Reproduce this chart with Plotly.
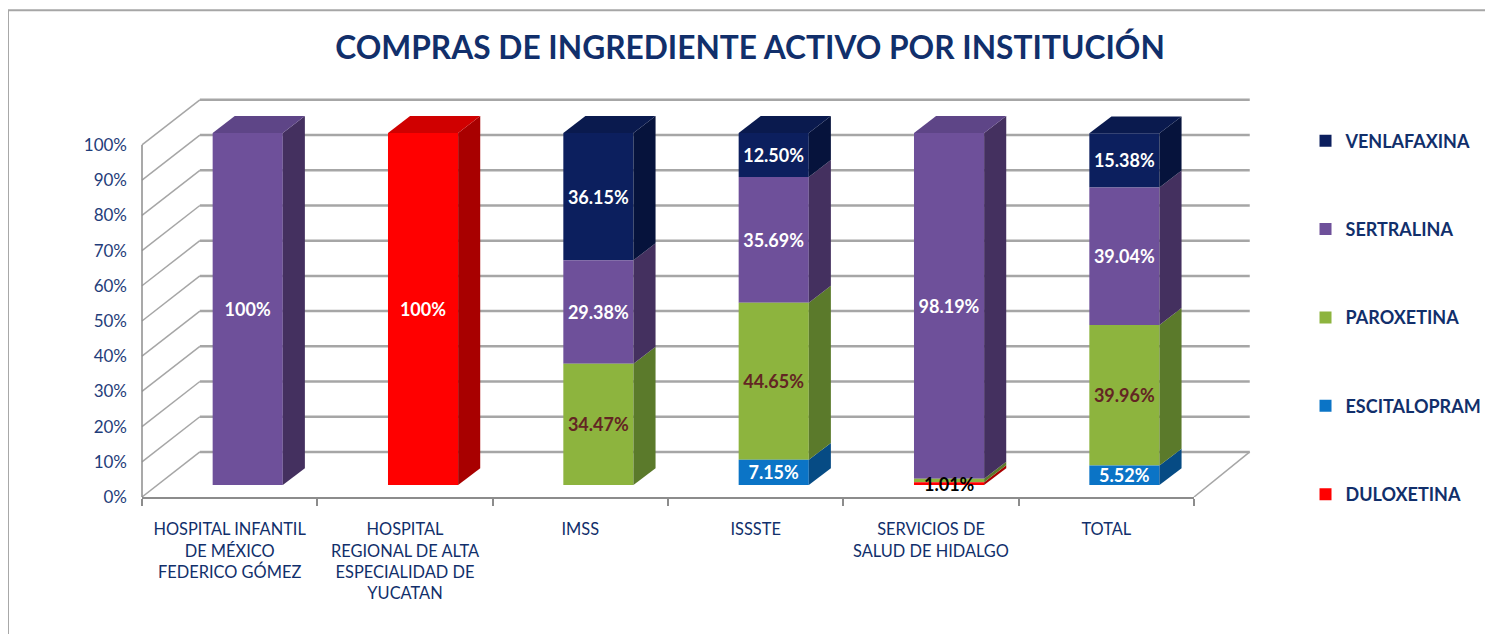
import plotly.graph_objects as go

# ---------------- data ----------------
categories = [
    "HOSPITAL INFANTIL<br>DE MÉXICO<br>FEDERICO GÓMEZ",
    "HOSPITAL<br>REGIONAL DE ALTA<br>ESPECIALIDAD DE<br>YUCATAN",
    "IMSS",
    "ISSSTE",
    "SERVICIOS DE<br>SALUD DE HIDALGO",
    "TOTAL",
]
series_names = ["DULOXETINA", "ESCITALOPRAM", "PAROXETINA", "SERTRALINA", "VENLAFAXINA"]
duloxetina = [0, 100, 0, 0, 0.80, 0]
escitalopram = [0, 0, 0, 7.15, 0, 5.52]
paroxetina = [0, 0, 34.47, 44.65, 1.01, 39.96]
sertralina = [100, 0, 29.38, 35.69, 98.19, 39.04]
venlafaxina = [0, 0, 36.15, 12.50, 0, 15.38]
y_tick_values = [0, 10, 20, 30, 40, 50, 60, 70, 80, 90, 100]
title_text = "COMPRAS DE INGREDIENTE ACTIVO POR INSTITUCIÓN"

series_values = [duloxetina, escitalopram, paroxetina, sertralina, venlafaxina]

# ---------------- style ----------------
front_colors = ["#FF0000", "#0B74C6", "#8DB43E", "#6E509A", "#0C1F5E"]
side_colors = ["#A80000", "#064B84", "#5B7A2B", "#44305F", "#06133C"]
top_colors = ["#D00000", "#0960A3", "#76983A", "#5E4587", "#0A1A4E"]
label_colors = ["white", "white", "#632523", "white", "white"]
NAVY = "#112F6B"
GRID = "#A6A6A6"
FONT = "Lato"

BAR_W = 0.4        # bar width (category units)
OFFSET = -0.097    # bar front-face offset from category centre
DX = 0.126         # 3D depth of bars (x units)
DY = 4.8           # 3D depth of bars (y units)
FRONT = -3.4       # floor front edge, relative to bar plane (y units)
BACK = 9.4         # back wall, relative to bar plane (y units)
WALL_X0 = 0.055    # back wall start (paper)
WALL_X1 = 1.053    # back wall end (paper)
MIN_LABEL = 5

positions = list(range(len(categories)))


def fmt(v):
    return "100%" if v == 100 else f"{v:.2f}%"


# cumulative bases (stack order: first series at the bottom)
bases = []
acc = [0.0] * len(categories)
for vals in series_values:
    bases.append(acc[:])
    acc = [acc[i] + vals[i] for i in positions]
totals = acc

fig = go.Figure()
shapes = []
annotations = []

# 3D walls: back-wall gridlines + side-wall diagonals
for v in y_tick_values:
    shapes.append(dict(type="line", xref="paper", yref="y", layer="below",
                       x0=WALL_X0, x1=WALL_X1, y0=v + BACK, y1=v + BACK,
                       line=dict(color=GRID, width=2.5)))
    shapes.append(dict(type="line", xref="paper", yref="y", layer="below",
                       x0=0, x1=WALL_X0, y0=v + FRONT, y1=v + BACK,
                       line=dict(color=GRID, width=1.5)))
# floor right edge
shapes.append(dict(type="line", xref="paper", yref="y", layer="below",
                   x0=1, x1=WALL_X1, y0=FRONT, y1=BACK,
                   line=dict(color=GRID, width=1.5)))
# front vertical axis edge
shapes.append(dict(type="line", xref="paper", yref="y", layer="above",
                   x0=0, x1=0, y0=FRONT, y1=y_tick_values[-1] + FRONT,
                   line=dict(color="#8C8C8C", width=1.5)))

# add traces top series first so the legend lists VENLAFAXINA first
for k in reversed(range(len(series_names))):
    name, vals = series_names[k], series_values[k]
    texts = [fmt(v) if v >= MIN_LABEL else "" for v in vals]
    fig.add_trace(go.Bar(
        x=positions, y=vals, base=bases[k], name=name, legendgroup=name,
        width=BAR_W, offset=OFFSET,
        marker=dict(color=front_colors[k], line=dict(width=0)),
        text=texts, textposition="inside", insidetextanchor="middle",
        textangle=0, constraintext="none",
        textfont=dict(family=FONT, size=18, color=label_colors[k], weight="bold"),
        hoverinfo="skip",
    ))

for k, vals in enumerate(series_values):
    for i, v in enumerate(vals):
        if v <= 0:
            continue
        xl = positions[i] + OFFSET
        xr = xl + BAR_W
        b = bases[k][i]
        t = b + v
        shapes.append(dict(
            type="path", xref="x", yref="y", layer="above",
            path=f"M {xr},{b} L {xr+DX},{b+DY} L {xr+DX},{t+DY} L {xr},{t} Z",
            fillcolor=side_colors[k], line=dict(width=0),
        ))
        if abs(t - totals[i]) < 1e-6:
            shapes.append(dict(
                type="path", xref="x", yref="y", layer="above",
                path=f"M {xl},{t} L {xl+DX},{t+DY} L {xr+DX},{t+DY} L {xr},{t} Z",
                fillcolor=top_colors[k], line=dict(width=0),
            ))
        if 1 <= v < MIN_LABEL:
            annotations.append(dict(
                x=positions[i] + OFFSET + BAR_W / 2, y=0, xref="x", yref="y",
                text=fmt(v), showarrow=False, yanchor="middle", yshift=1,
                font=dict(family=FONT, size=18, color="black", weight="bold"),
            ))

# outer chart border
shapes.append(dict(type="rect", xref="paper", yref="paper",
                   x0=-0.1274, x1=1.2985, y0=-0.6, y1=1.214,
                   line=dict(color="#A6A6A6", width=2), layer="below"))

fig.update_layout(
    width=1493, height=634,
    paper_bgcolor="white", plot_bgcolor="white",
    margin=dict(l=134, r=307, t=88, b=145, autoexpand=False),
    barmode="overlay",
    title=dict(text=f"<b>{title_text}</b>", x=0.497, xref="container", y=0.937, yref="container",
               xanchor="center", yanchor="middle",
               font=dict(family=FONT, size=31.7, color=NAVY)),
    xaxis=dict(
        range=[-0.5, len(categories) - 0.5],
        tickmode="array", tickvals=positions, ticktext=categories,
        ticks="", showgrid=False, zeroline=False,
        showline=True, linecolor="#8C8C8C", linewidth=1.5,
        tickfont=dict(family=FONT, size=16.4, color=NAVY),
        ticklabelstandoff=17,
        minor=dict(tickmode="array", tickvals=[p - 0.5 for p in positions] + [positions[-1] + 0.5],
                   ticks="outside", ticklen=7, tickcolor="#8C8C8C", tickwidth=1.5, showgrid=False),
    ),
    yaxis=dict(
        range=[FRONT, 100 + BACK + 1.1],
        tickmode="array", tickvals=y_tick_values,
        ticktext=[f"{v}%" for v in y_tick_values],
        showgrid=False, zeroline=False, showline=False,
        ticks="", ticklabelstandoff=14, ticklabelshift=12,
        tickfont=dict(family=FONT, size=17, color="#1F3D7A"),
    ),
    legend=dict(
        x=1.106, y=0.934, xanchor="left", yanchor="top",
        tracegroupgap=62,
        font=dict(family=FONT, size=18, color=NAVY, weight="bold"),
        bgcolor="rgba(0,0,0,0)", itemwidth=30,
    ),
    shapes=shapes,
    annotations=annotations,
)

fig.write_html("out.html")
